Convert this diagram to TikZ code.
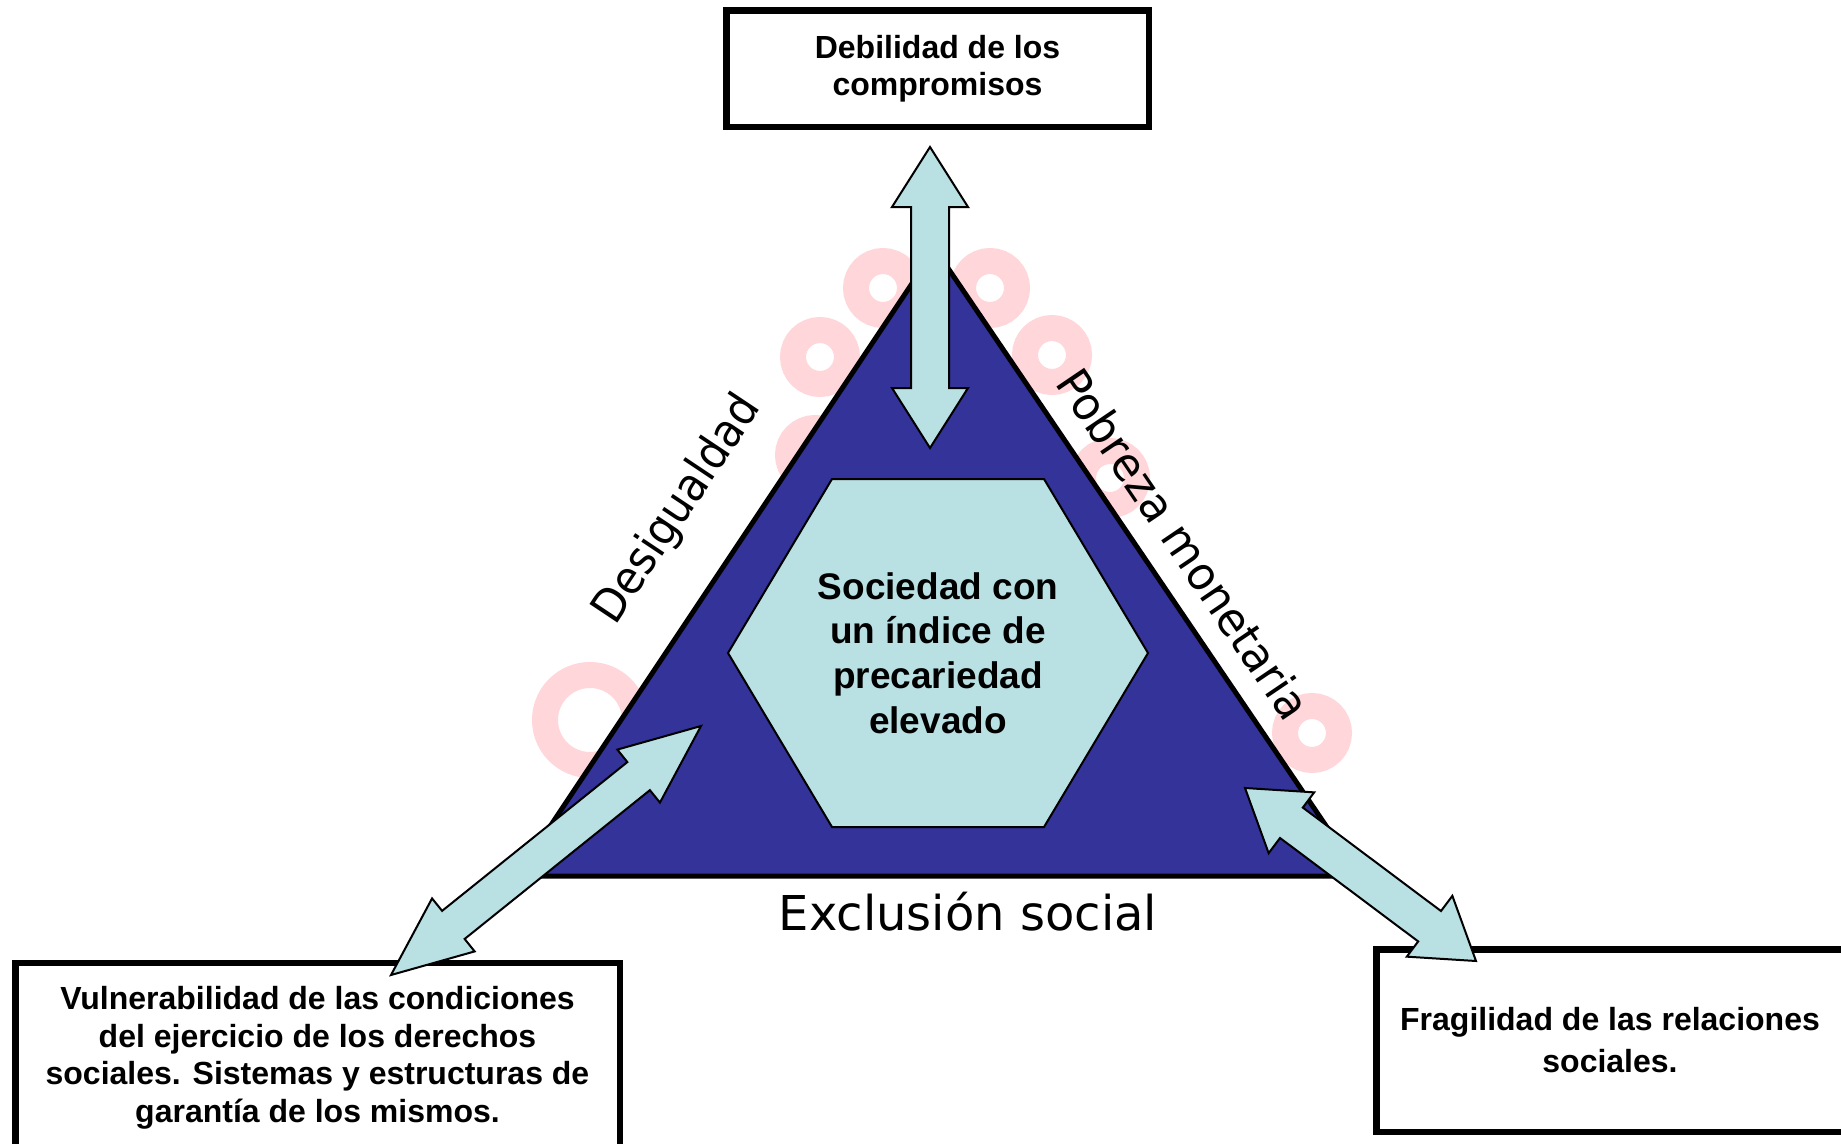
\documentclass[tikz,border=0pt]{standalone}
\usepackage{fontspec}
\usepackage{graphicx}
\setmainfont{Liberation Sans}
\newfontfamily\labelfont{DejaVu Sans}
\usetikzlibrary{calc}
\definecolor{tri-blue}{RGB}{51,51,153}
\definecolor{pale-cyan}{RGB}{185,224,227}
\definecolor{mark-pink}{RGB}{255,214,218}
\tikzset{
    text-box/.style = {draw=black, fill=white, line width=6.5pt, rectangle, align=center, inner sep=0pt, font=\fontsize{32}{37.5}\selectfont\bfseries},
    block-arrow/.style = {draw=black, fill=pale-cyan, line width=2pt, line join=miter},
    side-label/.style = {font=\labelfont\fontsize{46}{55}\selectfont, inner sep=0pt},
    core-hex/.style = {draw=black, fill=pale-cyan, line width=2pt},
    core-text/.style = {align=center, font=\fontsize{37}{44.7}\selectfont\bfseries},
    mark-ring/.style = {draw=mark-pink, line width=26pt},
}
% double block arrow between two tips: style, tip, tip, head length, head half width, shaft half width
\newcommand{\dblarrow}[6]{%
  \coordinate (#2-h) at ($(#2)!#4!(#3)$);
  \coordinate (#3-h) at ($(#3)!#4!(#2)$);
  \draw[#1] (#2) -- ($(#2-h)!#5!90:(#3)$) -- ($(#2-h)!#6!90:(#3)$) -- ($(#3-h)!#6!-90:(#2)$) -- ($(#3-h)!#5!-90:(#2)$) -- (#3)
    -- ($(#3-h)!#5!90:(#2)$) -- ($(#3-h)!#6!90:(#2)$) -- ($(#2-h)!#6!-90:(#3)$) -- ($(#2-h)!#5!-90:(#3)$) -- cycle;
}

\begin{document}
\begin{tikzpicture}[x=1pt, y=-1pt]
\useasboundingbox (0,0) rectangle (1841,1143);
% faint watermark behind the triangle
\foreach \cx/\cy in {883/288, 990/288, 1052/355, 820/357, 815/455, 1110/478, 1312/733}
  \draw[mark-ring] (\cx,\cy) circle (27pt);
\draw[mark-ring] (590,720) circle (45pt);
% triangle
\coordinate (apex) at (935,249);
\coordinate (left-foot) at (517,876);
\coordinate (right-foot) at (1360,876);
\draw[fill=tri-blue, line width=5pt, line join=miter] (apex) -- (left-foot) -- (right-foot) -- cycle;
% hexagon in the middle
\coordinate (core-c) at (938,653);
\draw[core-hex] ($(core-c)+(-210,0)$) -- ($(core-c)+(-106,-174)$) -- ($(core-c)+(106,-174)$)
  -- ($(core-c)+(210,0)$) -- ($(core-c)+(106,174)$) -- ($(core-c)+(-106,174)$) -- cycle;
\node[core-text] (core) at (core-c) {Sociedad con\\un índice de\\precariedad\\elevado};
% the three boxes
\node[text-box, minimum width=422.5pt, minimum height=116.5pt] (commit) at (937.5,68.5) {Debilidad de los\\compromisos};
\node[text-box, minimum width=604.5pt, minimum height=189.4pt] (rights) at (317.5,1057.7) {Vulnerabilidad de las condiciones\\del ejercicio de los derechos\\sociales. Sistemas y estructuras de\\garantía de los mismos.};
\node[text-box, minimum width=467.5pt, minimum height=182.5pt, font=\fontsize{32}{42}\selectfont\bfseries] (ties) at (1610,1040.5) {Fragilidad de las relaciones\\sociales.};
% arrows
\coordinate (up-tip) at (930,147);
\coordinate (down-tip) at (930,448);
\dblarrow{block-arrow}{up-tip}{down-tip}{60pt}{38pt}{19pt}
\coordinate (rights-tip) at (391,975);
\coordinate (core-tip-l) at (701,726);
\dblarrow{block-arrow}{rights-tip}{core-tip-l}{80pt}{34pt}{18pt}
\coordinate (core-tip-r) at (1245,788);
\coordinate (ties-tip) at (1476,961);
\dblarrow{block-arrow}{core-tip-r}{ties-tip}{58pt}{38pt}{19pt}
% labels on the sides
\node[side-label, rotate=56.3] (ineq) at (678,510) {\scalebox{0.92}[1]{Desigualdad}};
\node[side-label, rotate=-55.9] (poverty) at (1184,544) {\scalebox{0.95}[1]{Pobreza monetaria}};
\node[side-label, anchor=base, font=\labelfont\fontsize{48}{56}\selectfont] (exclusion) at (968,930) {Exclusión social};
\end{tikzpicture}
\end{document}
